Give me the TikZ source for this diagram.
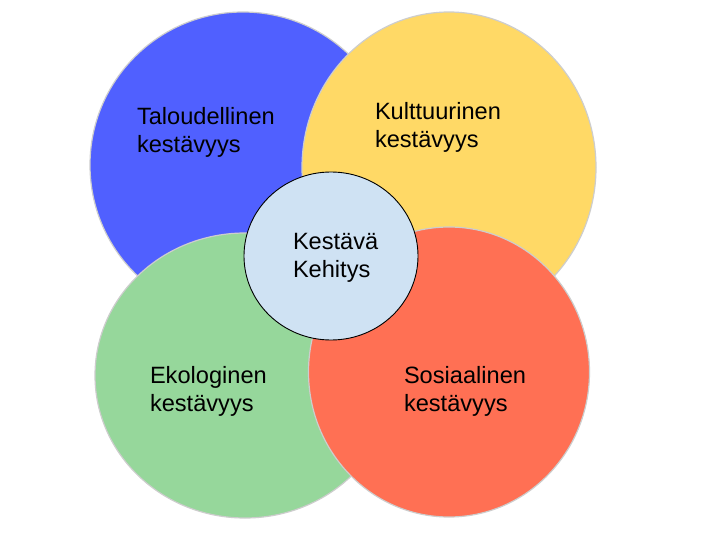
\documentclass[tikz,border=0pt]{standalone}
\usepackage{fontspec}
\setmainfont{Liberation Sans}
\usetikzlibrary{shapes.geometric}
\definecolor{cblue}{RGB}{80,96,255}
\definecolor{cyellow}{RGB}{255,217,102}
\definecolor{cgreen}{RGB}{150,215,155}
\definecolor{cred}{RGB}{255,112,84}
\definecolor{ccenter}{RGB}{207,226,243}
\definecolor{cedge}{RGB}{205,205,205}
\tikzset{
  petal/.style={ellipse, inner sep=0pt, outer sep=0pt, draw=cedge, line width=1.2pt},
  hub/.style={ellipse, inner sep=0pt, outer sep=0pt, draw=black, line width=0.9pt, fill=ccenter},
  lbl/.style={anchor=base west, align=left, inner sep=0pt, outer sep=0pt,
    font=\fontsize{23.6}{28}\selectfont, text=black}
}
\begin{document}
\begin{tikzpicture}[x=1pt,y=-1pt]
\useasboundingbox[fill=white] (0,0) rectangle (720,540);
\node[petal, fill=cblue, minimum width=306pt, minimum height=306pt] (talous) at (243,165) {};
\node[petal, fill=cyellow, minimum width=294pt, minimum height=311pt] (kulttuuri) at (449,167.5) {};
\node[petal, fill=cgreen, minimum width=300pt, minimum height=285pt] (ekologia) at (245,375.5) {};
\node[petal, fill=cred, minimum width=281pt, minimum height=290pt] (sosiaali) at (449,372) {};
\node[hub, minimum width=174pt, minimum height=168pt] (kestava) at (331,256) {};
\node[lbl] (t1) at (137,152.5) {Taloudellinen\\kestävyys};
\node[lbl] (t2) at (375,148) {Kulttuurinen\\kestävyys};
\node[lbl] (t3) at (150,411.5) {Ekologinen\\kestävyys};
\node[lbl] (t4) at (404,411) {Sosiaalinen\\kestävyys};
\node[lbl] (t5) at (293,277) {Kestävä\\Kehitys};
\end{tikzpicture}
\end{document}
